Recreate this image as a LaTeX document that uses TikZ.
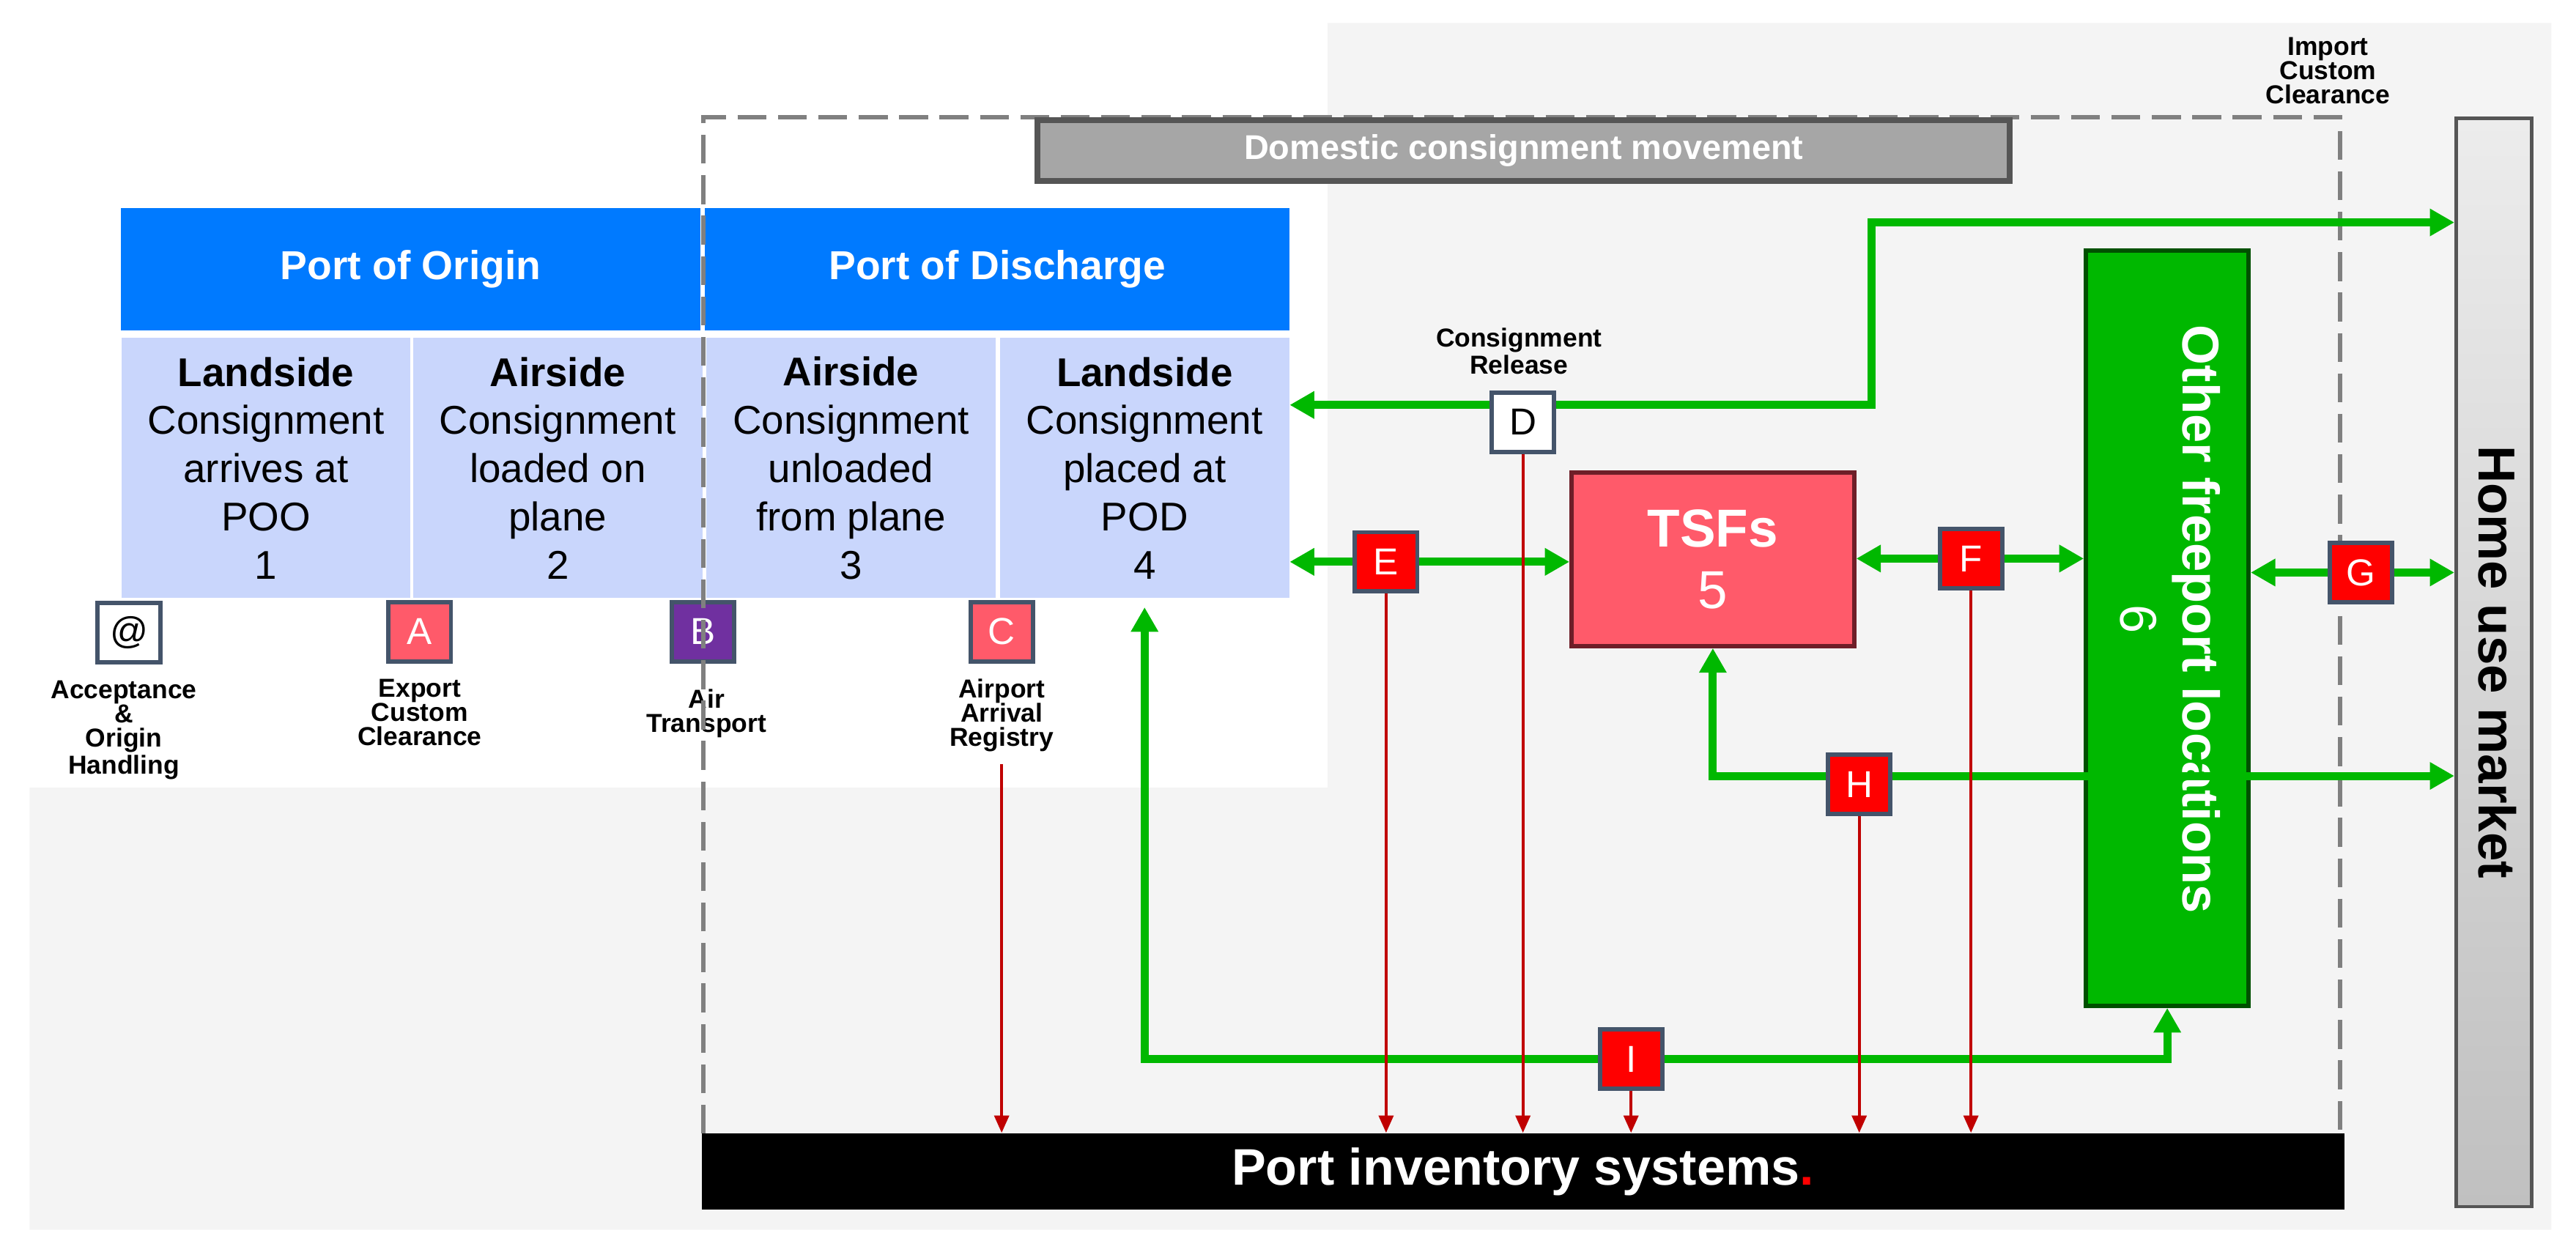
\documentclass[tikz,border=0pt]{standalone}
\usepackage{fontspec}
\setmainfont{Liberation Sans}
\usepackage{xcolor}
\usetikzlibrary{positioning,arrows.meta}

\definecolor{hdblue}{RGB}{0,122,255}
\definecolor{cellblue}{RGB}{201,214,252}
\definecolor{bggray}{RGB}{244,244,244}
\definecolor{coral}{RGB}{255,90,106}
\definecolor{badgeedge}{RGB}{68,84,106}
\definecolor{purp}{RGB}{112,48,160}
\definecolor{flowgreen}{RGB}{0,184,0}
\definecolor{darkgreen}{RGB}{0,80,0}
\definecolor{tsfedge}{RGB}{110,30,40}
\definecolor{linkred}{RGB}{192,0,0}
\definecolor{barfill}{RGB}{166,166,166}
\definecolor{baredge}{RGB}{85,85,85}
\definecolor{dashgray}{RGB}{128,128,128}
\definecolor{homelight}{RGB}{236,236,236}
\definecolor{homedark}{RGB}{192,192,192}

\begin{document}
\begin{tikzpicture}[x=0.02cm, y=-0.02cm,
    header/.style={rectangle, fill=hdblue, text=white, minimum height=1.49cm, inner sep=0pt, font=\fontsize{14pt}{17pt}\selectfont\bfseries},
    cell/.style={rectangle, fill=cellblue, align=center, minimum width=3.52cm, minimum height=3.166cm, inner sep=0pt, font=\fontsize{13.9pt}{16.7pt}\selectfont},
    badge/.style={rectangle, draw=badgeedge, line width=1.5pt, minimum width=0.76cm, minimum height=0.72cm, inner sep=0pt, text=white, font=\fontsize{13pt}{15pt}\selectfont},
    caption/.style={anchor=north, align=center, inner sep=0pt, font=\fontsize{9pt}{8.4pt}\selectfont\bfseries},
    flow/.style={draw=flowgreen, line width=2.8pt, >={Triangle[length=8.5pt,width=9pt]}},
    feed/.style={draw=linkred, line width=1.1pt, -{Triangle[length=6pt,width=5pt]}}]
    \useasboundingbox (0,0) rectangle (1568,757);
    % background
    \fill[bggray] (808,14) -- (1553,14) -- (1553,748.6) -- (18,748.6) -- (18,479.5) -- (808,479.5) -- cycle;

    % ports
    \node [header, minimum width=7.06cm] (poo) at (250,163.7) {Port of Origin};
    \node [header, minimum width=7.12cm] (pod) at (607,163.7) {Port of Discharge};
    \node [cell] (cell1) at (161.9,284.9) {\textbf{Landside}\\Consignment\\arrives at\\POO\\1};
    \node [cell] (cell2) at (339.5,284.9) {\textbf{Airside}\\Consignment\\loaded on\\plane\\2};
    \node [cell] (cell3) at (518,284.9) {\textbf{Airside}\\Consignment\\unloaded\\from plane\\3};
    \node [cell] (cell4) at (696.7,284.9) {\textbf{Landside}\\Consignment\\placed at\\POD\\4};

    % export side steps
    \node [badge, fill=white, text=black] (bAt) at (78.5,385) {@};
    \node [badge, fill=coral] (bA) at (255.5,384.5) {A};
    \node [badge, fill=purp] (bB) at (428,384.5) {B};
    \node [badge, fill=coral] (bC) at (609.7,384.5) {C};
    \node [caption] (capAt) at (75.4,414) {Acceptance\\\&\\Origin\\Handling};
    \node [caption] (capA) at (255.5,413) {Export\\Custom\\Clearance};
    \node [caption] (capB) at (430,419) {Air\\Transport};
    \node [caption] (capC) at (609.7,413) {Airport\\Arrival\\Registry};

    % domestic area
    \draw [dashgray, line width=1.5pt, dash pattern=on 10pt off 4pt] (428,690) -- (428,71.4) -- (1424.5,71.4) -- (1424.5,690);
    \node [rectangle, fill=barfill, draw=baredge, line width=2pt, minimum width=11.84cm, minimum height=0.74cm, text=white, font=\fontsize{11.9pt}{14pt}\selectfont\bfseries] (dom) at (927.5,91.5) {Domestic consignment movement};
    \node [caption] (capImp) at (1417,22.5) {Import\\Custom\\Clearance};

    % boxes
    \node [rectangle, fill=coral, draw=tsfedge, line width=1.5pt, minimum width=3.44cm, minimum height=2.11cm, text=white, align=center, font=\fontsize{18.5pt}{21.5pt}\selectfont] (tsf) at (1042.6,340.5) {\textbf{TSFs}\\5};
    \node [rectangle, fill=flowgreen, draw=darkgreen, line width=1.5pt, minimum width=1.98cm, minimum height=9.2cm] (free) at (1319.2,382.3) {};
    \node [rotate=-90, text=white, align=center, font=\fontsize{17.9pt}{21.5pt}\selectfont] (freetxt) at (1321,377) {\textbf{Other freeport locations}\\6};
    \node [rectangle, top color=homelight, bottom color=homedark, draw=baredge, line width=1.2pt, minimum width=0.92cm, minimum height=13.25cm] (home) at (1518,403.3) {};
    \node [rotate=-90, font=\fontsize{18pt}{21pt}\selectfont\bfseries] (hometxt) at (1520,403) {Home use market};
    \node [rectangle, fill=black, minimum width=20cm, minimum height=0.93cm, text=white, font=\fontsize{17.8pt}{20pt}\selectfont\bfseries] (inv) at (927,713.2) {Port inventory systems\textcolor{red}{.}};

    % green flows
    \coordinate (kneeD) at (1139,246.5);
    \coordinate (topD) at (1139,135.4);
    \coordinate (pE) at (843.7,342);
    \coordinate (pF) at (1199.7,340);
    \coordinate (pG) at (1437,348.5);
    \coordinate (lvH) at (1131.7,472.3);
    \coordinate (pI) at (992.8,644.7);
    \draw [flow, <->] (cell4.east |- kneeD) -- (kneeD) -- (topD) -- (home.west |- topD);
    \draw [flow, <->] (cell4.east |- pE) -- (tsf.west |- pE);
    \draw [flow, <->] (tsf.east |- pF) -- (free.west |- pF);
    \draw [flow, <->] (free.east |- pG) -- (home.west |- pG);
    \draw [flow, <->] (tsf.south) |- (home.west |- lvH);
    \draw [flow, <->, shorten <=3pt] (cell4.south) |- (pI) -| (free.south);

    % import side steps
    \node [badge, fill=white, text=black] (bD) at (927,257) {D};
    \node [badge, fill=red] (bE) at (pE) {E};
    \node [badge, fill=red] (bF) at (pF) {F};
    \node [badge, fill=red] (bG) at (pG) {G};
    \node [badge, fill=red] (bH) at (1131.7,477.5) {H};
    \node [badge, fill=red] (bI) at (pI) {I};
    \node [caption] (capD) at (924.6,199.5) {Consignment\\Release};

    % feeds to inventory
    \draw [feed] ([yshift=-4pt]capC.south) -- (inv.north -| capC.south);
    \draw [feed] (bE.south) -- (inv.north -| bE.south);
    \draw [feed] (bD.south) -- (inv.north -| bD.south);
    \draw [feed] (bI.south) -- (inv.north -| bI.south);
    \draw [feed] (bH.south) -- (inv.north -| bH.south);
    \draw [feed] (bF.south) -- (inv.north -| bF.south);
\end{tikzpicture}
\end{document}
